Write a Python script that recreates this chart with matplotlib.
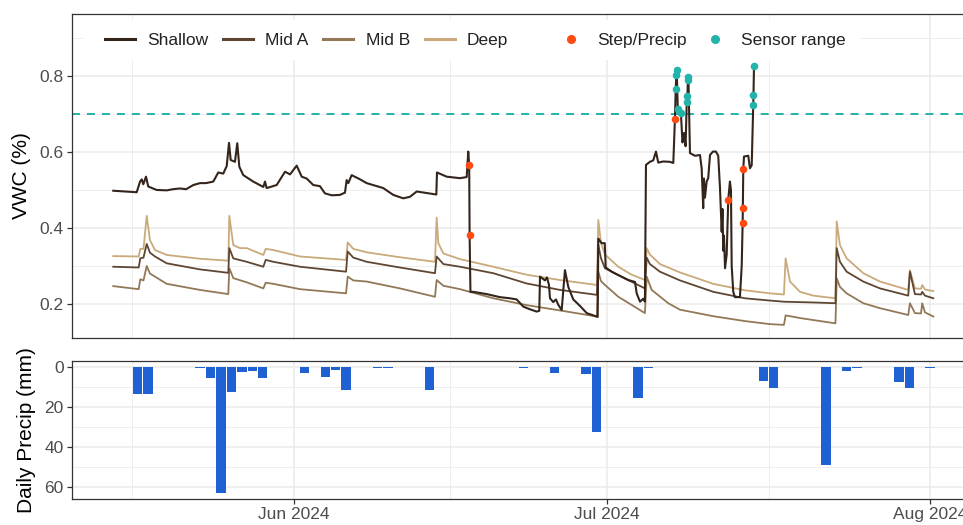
import numpy as np
import pandas as pd
import matplotlib
matplotlib.use("Agg")
import matplotlib.pyplot as plt
import matplotlib.dates as mdates
from matplotlib.lines import Line2D
from matplotlib.patches import Rectangle
from matplotlib.ticker import FixedLocator, MultipleLocator

plt.rcParams["font.family"] = ["Liberation Sans", "DejaVu Sans"]

# Time stamps are given as fractional days since 2024-05-01 00:00
BASE = "2024-05-01"

# ---- soil moisture, three deeper sensors (vertices of each trace) ----
deep_t = [13.67, 16.11, 16.26, 16.57, 16.88, 17.19, 17.67, 18.80, 21.99, 24.70,
          24.80, 25.18, 25.82, 26.47, 28.06, 28.29, 29.02, 31.58, 35.99, 36.15,
          36.69, 37.97, 41.16, 44.52, 44.68, 44.84, 45.32, 46.92, 50.11, 53.31,
          56.51, 60.05, 60.18, 60.44, 60.82, 62.10, 63.31, 64.65, 64.82, 65.13,
          66.09, 68.01, 71.20, 74.24, 76.64, 77.98, 78.14, 78.56, 79.52, 80.79,
          82.92, 83.04, 83.35, 83.99, 85.59, 87.19, 89.90, 90.06, 90.54, 91.12,
          91.24, 91.50, 92.30]
deep_v = [0.326, 0.325, 0.345, 0.345, 0.432, 0.368, 0.342, 0.329, 0.319, 0.314,
          0.432, 0.355, 0.347, 0.347, 0.329, 0.345, 0.342, 0.325, 0.316, 0.362,
          0.345, 0.336, 0.323, 0.311, 0.427, 0.360, 0.333, 0.318, 0.298, 0.277,
          0.263, 0.250, 0.421, 0.360, 0.330, 0.298, 0.278, 0.263, 0.347, 0.330,
          0.305, 0.283, 0.253, 0.236, 0.228, 0.225, 0.320, 0.259, 0.232, 0.222,
          0.215, 0.417, 0.355, 0.320, 0.281, 0.259, 0.237, 0.289, 0.241, 0.240,
          0.250, 0.238, 0.234]

mida_t = [13.67, 16.11, 16.26, 16.57, 16.88, 17.19, 17.67, 18.80, 21.99, 24.70,
          24.80, 25.18, 26.47, 28.06, 28.29, 29.02, 31.58, 35.99, 36.15, 36.69,
          37.97, 41.16, 44.52, 44.68, 45.32, 46.92, 50.11, 53.31, 56.51, 60.05,
          60.18, 60.44, 60.82, 62.10, 64.65, 64.82, 65.13, 66.09, 68.01, 71.20,
          74.24, 76.64, 77.98, 80.79, 82.92, 83.04, 83.35, 83.99, 85.59, 87.19,
          89.90, 90.06, 90.54, 91.12, 91.24, 91.50, 92.30]
mida_v = [0.298, 0.296, 0.320, 0.322, 0.358, 0.335, 0.325, 0.307, 0.291, 0.282,
          0.347, 0.320, 0.311, 0.298, 0.316, 0.311, 0.298, 0.285, 0.338, 0.322,
          0.311, 0.296, 0.281, 0.325, 0.305, 0.298, 0.281, 0.254, 0.237, 0.224,
          0.355, 0.320, 0.294, 0.276, 0.241, 0.322, 0.305, 0.285, 0.262, 0.232,
          0.215, 0.209, 0.206, 0.204, 0.202, 0.347, 0.311, 0.285, 0.259, 0.241,
          0.222, 0.285, 0.226, 0.225, 0.232, 0.222, 0.215]

midb_t = [13.67, 16.11, 16.26, 16.57, 16.88, 17.19, 17.67, 18.80, 21.99, 24.70,
          24.80, 25.18, 26.47, 28.06, 28.29, 29.02, 31.58, 35.99, 36.15, 36.69,
          37.97, 41.16, 44.52, 44.68, 45.32, 46.92, 50.11, 53.31, 56.51, 60.05,
          60.18, 60.44, 60.82, 62.10, 64.65, 64.82, 65.30, 66.89, 68.01, 71.17,
          74.24, 76.64, 77.98, 78.14, 79.52, 82.92, 83.04, 83.35, 83.99, 85.59,
          87.19, 89.90, 90.06, 90.54, 91.12, 91.24, 91.50, 92.30]
midb_v = [0.247, 0.239, 0.265, 0.262, 0.300, 0.280, 0.272, 0.253, 0.237, 0.226,
          0.294, 0.268, 0.257, 0.241, 0.256, 0.253, 0.239, 0.228, 0.272, 0.262,
          0.259, 0.241, 0.219, 0.263, 0.248, 0.239, 0.215, 0.197, 0.183, 0.167,
          0.285, 0.260, 0.250, 0.219, 0.176, 0.272, 0.237, 0.202, 0.185, 0.168,
          0.155, 0.147, 0.145, 0.170, 0.163, 0.149, 0.268, 0.245, 0.228, 0.202,
          0.189, 0.171, 0.202, 0.176, 0.175, 0.202, 0.178, 0.167]

# ---- shallow sensor (unflagged vertices) ----
shallow_t = [13.67, 14.80, 15.92, 16.24, 16.40, 16.55, 16.81, 17.03, 17.84, 18.80,
             19.40, 20.07, 20.65, 21.35, 21.99, 22.56, 23.26, 23.74, 24.22, 24.55,
             24.77, 24.93, 25.34, 25.56, 25.76, 26.14, 27.10, 28.06, 28.22, 28.38,
             29.34, 30.14, 30.62, 31.26, 31.74, 32.22, 32.85, 33.49, 33.97, 34.62,
             35.41, 35.89, 36.05, 36.21, 36.53, 37.33, 37.97, 39.56, 40.52, 41.48,
             42.12, 42.77, 43.72, 44.65, 44.71, 45.64, 46.92, 47.56, 47.71, 47.92,
             48.19, 49.48, 50.75, 51.71, 52.35, 52.99, 53.63, 54.27, 54.52, 54.59,
             55.07, 55.26, 55.45, 55.55, 55.86, 56.12, 56.34, 56.67, 56.98, 57.30,
             57.78, 58.42, 59.07, 59.70, 60.12, 60.18, 60.50, 60.80, 60.89, 61.46,
             62.10, 63.05, 63.70, 63.86, 64.18, 64.49, 64.65, 64.75, 65.13, 65.45,
             65.71, 65.93, 66.41, 67.05, 67.37, 68.25, 68.40, 68.55, 68.97, 69.45,
             69.93, 70.09, 70.24, 70.31, 70.41, 70.57, 70.72, 70.89, 71.17, 71.46,
             71.68, 71.85, 72.01, 72.09, 72.16, 72.23, 72.33, 72.49, 72.80, 72.90,
             72.97, 73.12, 73.28, 73.76, 73.93, 74.15, 74.56, 74.72, 74.89]
shallow_v = [0.498, 0.496, 0.494, 0.522, 0.528, 0.515, 0.535, 0.509, 0.500, 0.499,
             0.502, 0.504, 0.502, 0.513, 0.518, 0.518, 0.522, 0.546, 0.543, 0.563,
             0.624, 0.579, 0.574, 0.623, 0.561, 0.539, 0.522, 0.508, 0.522, 0.505,
             0.513, 0.548, 0.541, 0.564, 0.535, 0.530, 0.513, 0.510, 0.491, 0.486,
             0.487, 0.493, 0.526, 0.518, 0.539, 0.528, 0.518, 0.505, 0.487, 0.478,
             0.482, 0.496, 0.492, 0.488, 0.546, 0.535, 0.531, 0.534, 0.601, 0.232,
             0.232, 0.226, 0.218, 0.215, 0.212, 0.193, 0.186, 0.180, 0.182, 0.272,
             0.262, 0.270, 0.250, 0.215, 0.205, 0.212, 0.198, 0.184, 0.289, 0.245,
             0.212, 0.195, 0.176, 0.170, 0.166, 0.372, 0.360, 0.360, 0.296, 0.285,
             0.276, 0.263, 0.258, 0.228, 0.206, 0.214, 0.206, 0.566, 0.574, 0.578,
             0.601, 0.572, 0.575, 0.574, 0.571, 0.625, 0.650, 0.615, 0.597, 0.590,
             0.592, 0.557, 0.452, 0.530, 0.480, 0.522, 0.531, 0.592, 0.601, 0.601,
             0.590, 0.504, 0.390, 0.450, 0.340, 0.380, 0.294, 0.330, 0.522, 0.500,
             0.300, 0.232, 0.218, 0.218, 0.300, 0.588, 0.590, 0.557, 0.565]

# flagged shallow readings
step_t = [47.80, 47.84, 67.53, 72.64, 74.02, 74.04, 74.08]
step_v = [0.566, 0.382, 0.687, 0.474, 0.412, 0.452, 0.554]
range_t = [67.60, 67.66, 67.70, 67.80, 68.10, 68.66, 68.72, 68.77, 68.82,
           75.04, 75.06, 75.11]
range_v = [0.765, 0.803, 0.816, 0.712, 0.703, 0.732, 0.746, 0.790, 0.796,
           0.724, 0.750, 0.827]
sensor_limit = 0.70

# ---- daily precipitation ----
precip_date = ["2024-05-17", "2024-05-18", "2024-05-23", "2024-05-24", "2024-05-25",
               "2024-05-26", "2024-05-27", "2024-05-28", "2024-05-29", "2024-06-02",
               "2024-06-04", "2024-06-05", "2024-06-06", "2024-06-09", "2024-06-10",
               "2024-06-14", "2024-06-23", "2024-06-26", "2024-06-29", "2024-06-30",
               "2024-07-04", "2024-07-05", "2024-07-16", "2024-07-17", "2024-07-22",
               "2024-07-24", "2024-07-25", "2024-07-29", "2024-07-30", "2024-08-01"]
precip_mm = [13.5, 13.5, 0.3, 5.5, 63.0, 12.5, 2.5, 2.0, 5.3, 2.7,
             5.0, 1.2, 11.3, 0.3, 0.3, 11.2, 0.5, 2.7, 3.3, 32.5,
             15.5, 0.3, 7.0, 10.5, 49.3, 1.7, 0.3, 7.2, 10.5, 0.3]

series_names = ["Shallow", "Mid A", "Mid B", "Deep"]
series_colors = ["#33251c", "#5e4633", "#927857", "#caa97b"]
STEP_COLOR = "#ff4a12"
RANGE_COLOR = "#22b3ab"
BAR_COLOR = "#1f60d2"
GRID = "#ebebeb"
TEXT = "#4d4d4d"


def to_num(days):
    base = mdates.date2num(pd.Timestamp(BASE))
    return base + np.asarray(days, dtype=float)


# merge flagged points back into the shallow trace
all_t = np.concatenate([shallow_t, step_t, range_t])
all_v = np.concatenate([shallow_v, step_v, range_v])
order = np.argsort(all_t, kind="stable")
sh_t, sh_v = all_t[order], all_v[order]

W, H = 963, 525
fig = plt.figure(figsize=(W / 100, H / 100), dpi=100)


def box(l, t, r, b):
    return [l / W, 1 - b / H, (r - l) / W, (b - t) / H]


ax1 = fig.add_axes(box(72, 14, 975, 338))
ax2 = fig.add_axes(box(72, 361, 975, 499), sharex=ax1)

for ax in (ax1, ax2):
    ax.set_facecolor("white")
    ax.set_axisbelow(True)
    for sp in ax.spines.values():
        sp.set_color("#333333")
        sp.set_linewidth(0.9)
    ax.grid(which="major", color=GRID, lw=1.1)
    ax.grid(which="minor", color=GRID, lw=0.6)
    ax.tick_params(which="major", length=3.5, width=0.9, color="#333333",
                   labelcolor=TEXT, labelsize=12.5, pad=2.5)
    ax.tick_params(which="minor", length=0)

# ---- top panel ----
ax1.plot(to_num(deep_t), deep_v, color=series_colors[3], lw=1.3, zorder=3)
ax1.plot(to_num(midb_t), midb_v, color=series_colors[2], lw=1.3, zorder=3)
ax1.plot(to_num(mida_t), mida_v, color=series_colors[1], lw=1.3, zorder=3)
ax1.plot(to_num(sh_t), sh_v, color=series_colors[0], lw=1.5, zorder=4)
ax1.axhline(sensor_limit, color=RANGE_COLOR, lw=1.4, ls=(0, (4.1, 3.6)), zorder=2)
ax1.scatter(to_num(step_t), step_v, s=30, color=STEP_COLOR, zorder=5, linewidths=0)
ax1.scatter(to_num(range_t), range_v, s=30, color=RANGE_COLOR, zorder=5, linewidths=0)

ax1.set_ylim(0.1105, 0.963)
ax1.yaxis.set_major_locator(FixedLocator([0.2, 0.4, 0.6, 0.8]))
ax1.yaxis.set_minor_locator(MultipleLocator(0.1))
ax1.set_yticklabels(["0.2", "0.4", "0.6", "0.8"])
ax1.tick_params(axis="x", which="both", length=0, labelbottom=False)
ax1.set_ylabel("VWC (%)", fontsize=15, color="black", labelpad=6)

# legend strip
fx = lambda px: (px - 72) / (975 - 72)
fy = lambda py: (338 - py) / (338 - 14)
ax1.add_patch(Rectangle((fx(83), fy(60)), fx(860) - fx(83), fy(20) - fy(60),
                        transform=ax1.transAxes, facecolor="white",
                        edgecolor="none", zorder=1.5))
line_handles = [Line2D([], [], color=c, lw=2.2) for c in series_colors]
leg1 = ax1.legend(line_handles, series_names, ncol=4, loc="center left",
                  bbox_to_anchor=(fx(105), fy(40)), frameon=False, fontsize=12.5,
                  handlelength=1.73, handletextpad=0.7, columnspacing=0.85,
                  borderpad=0, borderaxespad=0, labelcolor="#222222")
ax1.add_artist(leg1)
pt_handles = [Line2D([], [], ls="none", marker="o", ms=5.5, color=STEP_COLOR),
              Line2D([], [], ls="none", marker="o", ms=5.5, color=RANGE_COLOR)]
ax1.legend(pt_handles, ["Step/Precip", "Sensor range"], ncol=2, loc="center left",
           bbox_to_anchor=(fx(557), fy(40)), frameon=False, fontsize=12.5,
           handlelength=1.6, handletextpad=0.7, columnspacing=0.85,
           borderpad=0, borderaxespad=0, labelcolor="#222222")

# ---- bottom panel ----
bar_x = mdates.date2num(pd.to_datetime(precip_date))
ax2.bar(bar_x, precip_mm, width=0.9, color=BAR_COLOR, zorder=3)
ax2.set_ylim(66.15, -3.15)
ax2.yaxis.set_major_locator(FixedLocator([0, 20, 40, 60]))
ax2.yaxis.set_minor_locator(MultipleLocator(10))
ax2.set_ylabel("Daily Precip (mm)", fontsize=15, color="black", labelpad=6)

# shared date axis
left = to_num([9.715])[0]
right = to_num([96.30])[0]
ax2.set_xlim(left, right)
month_starts = pd.date_range("2024-05-01", "2024-09-01", freq="MS")
ms_num = mdates.date2num(month_starts)
ax2.xaxis.set_major_locator(FixedLocator(ms_num))
ax2.xaxis.set_major_formatter(mdates.DateFormatter("%b %Y"))
ax2.xaxis.set_minor_locator(FixedLocator((ms_num[:-1] + ms_num[1:]) / 2))
ax1.xaxis.set_minor_locator(FixedLocator((ms_num[:-1] + ms_num[1:]) / 2))

fig.align_ylabels([ax1, ax2])
fig.savefig("out.png", dpi=100, facecolor="white")
